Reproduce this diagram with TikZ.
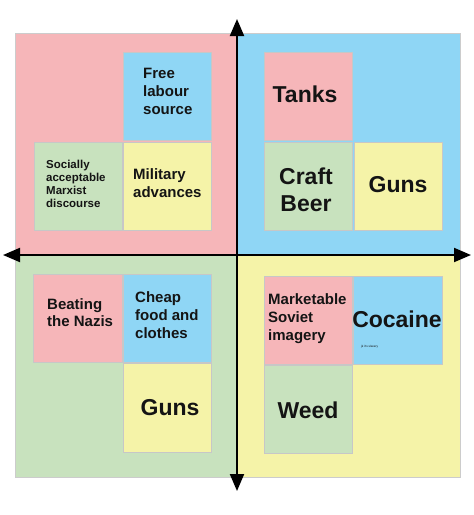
\documentclass[tikz,border=0pt]{standalone}
\usepackage{fontspec}
\setmainfont{Liberation Sans}
\usetikzlibrary{arrows.meta}
\definecolor{qpink}{RGB}{246,182,185}
\definecolor{qblue}{RGB}{143,214,245}
\definecolor{qgreen}{RGB}{200,226,190}
\definecolor{qyellow}{RGB}{245,243,168}
\tikzset{
  quad/.style={draw=black!20,line width=0.4pt},
  cell/.style={draw=black!22,line width=0.5pt},
  txt/.style={inner sep=0pt,font=\bfseries,text=black!92},
  mid/.style={txt,font=\bfseries\fontsize{15}{18}\selectfont,align=left,anchor=north west},
  big/.style={txt,font=\bfseries\fontsize{23}{27}\selectfont,align=center},
  axis/.style={line width=2pt,-{Triangle[length=17pt,width=14pt]}}
}
\begin{document}
\begin{tikzpicture}[x=1pt,y=-1pt]
\useasboundingbox (0,0) rectangle (474,515);
\fill[white] (0,0) rectangle (474,515);
% quadrants
\fill[qpink,quad] (15,33) rectangle (237,255);
\fill[qblue,quad] (237,33) rectangle (460,255);
\fill[qgreen,quad] (15,255) rectangle (237,477);
\fill[qyellow,quad] (237,255) rectangle (460,477);
% top-left cells
\fill[qblue,cell] (123,52) rectangle (211,140);
\fill[qgreen,cell] (34,142) rectangle (122,230);
\fill[qyellow,cell] (123,142) rectangle (211,230);
% top-right cells
\fill[qpink,cell] (264,52) rectangle (352,140);
\fill[qgreen,cell] (264,142) rectangle (352,230);
\fill[qyellow,cell] (354,142) rectangle (442,230);
% bottom-left cells
\fill[qpink,cell] (33,274) rectangle (122,362);
\fill[qblue,cell] (123,274) rectangle (211,362);
\fill[qyellow,cell] (123,363) rectangle (211,452);
% bottom-right cells
\fill[qpink,cell] (264,276) rectangle (352,364);
\fill[qblue,cell] (353,276) rectangle (442,364);
\fill[qgreen,cell] (264,365) rectangle (352,453);
% texts
\node[mid] (free) at (143,68) {Free\\labour\\source};
\node[txt,font=\bfseries\fontsize{11.5}{13}\selectfont,align=left,anchor=north west] (soc) at (46,160) {Socially\\acceptable\\Marxist\\discourse};
\node[mid] (mil) at (133,168) {Military\\advances};
\node[big] (tanks) at (305,94) {Tanks};
\node[big] (beer) at (306,190) {Craft\\Beer};
\node[big] (guns1) at (398,185) {Guns};
\node[mid,font=\bfseries\fontsize{15}{17}\selectfont] (nazis) at (47,298) {Beating\\the Nazis};
\node[mid] (cheap) at (135,291) {Cheap\\food and\\clothes};
\node[big] (guns2) at (170,408) {Guns};
\node[mid] (soviet) at (268,293) {Marketable\\Soviet\\imagery};
\node[big] (coke) at (397,319) {Cocaine};
\node[txt,font=\fontsize{3}{4}\selectfont,anchor=west] (jk) at (361,347) {jk it's slavery};
\node[big] (weed) at (308,410) {Weed};
% axes
\coordinate (ctr) at (237,255);
\coordinate (top) at (237,19);
\coordinate (bot) at (237,491);
\coordinate (lft) at (3,255);
\coordinate (rgt) at (471,255);
\draw[axis] (ctr) -- (top);
\draw[axis] (ctr) -- (bot);
\draw[axis] (ctr) -- (lft);
\draw[axis] (ctr) -- (rgt);
\end{tikzpicture}
\end{document}
